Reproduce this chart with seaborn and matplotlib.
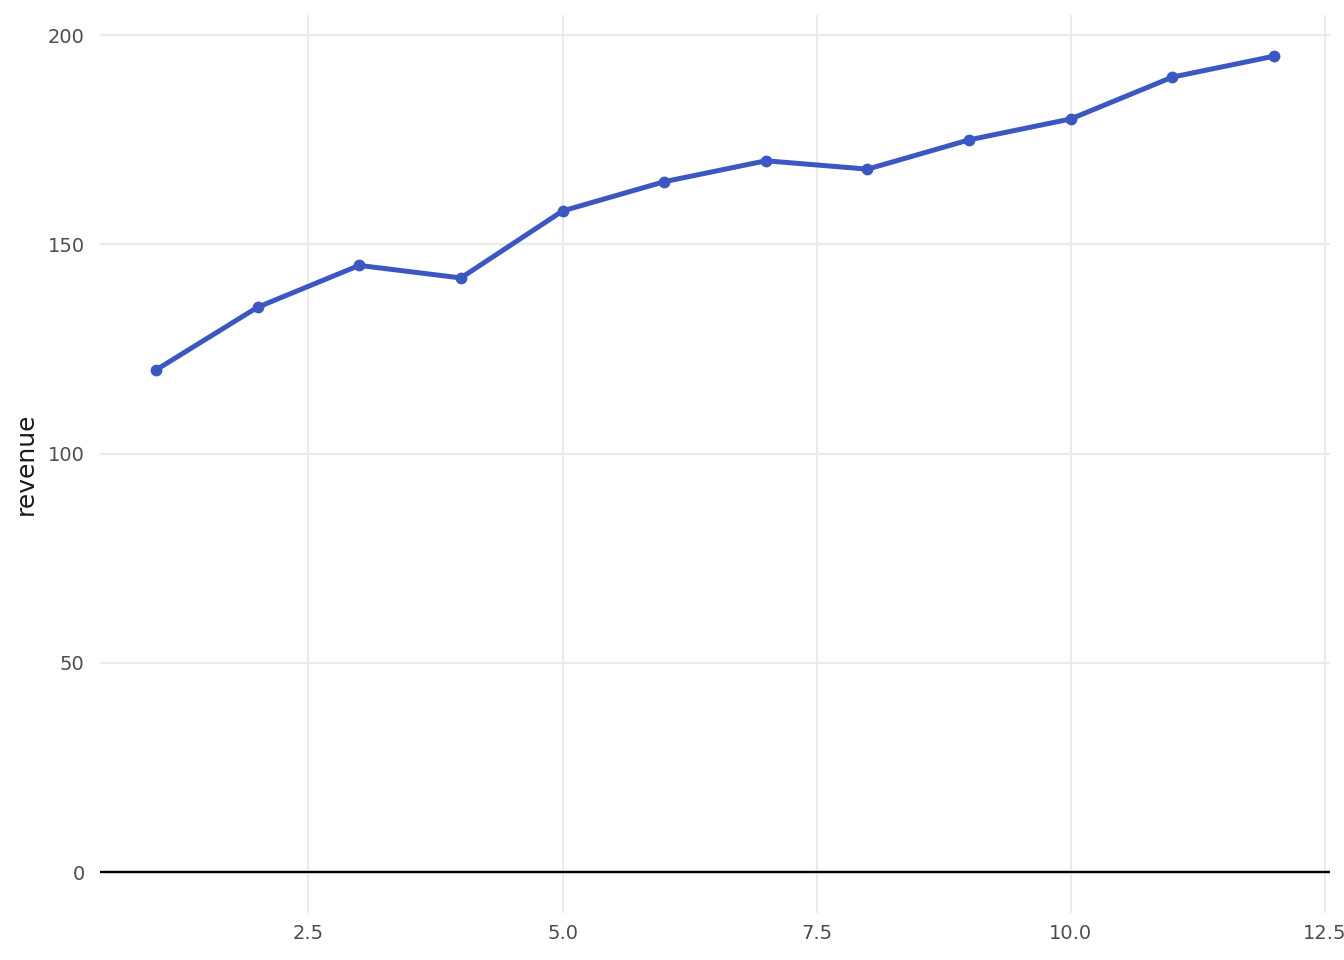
#################################################################################################
#   Required Header Files
#################################################################################################
import pandas as pd
import matplotlib
matplotlib.use("Agg")
import matplotlib.pyplot as plt
import seaborn as sns

#################################################################################################
#   Chart Data
#################################################################################################
Months = [1, 2, 3, 4, 5, 6, 7, 8, 9, 10, 11, 12]
Revenue = [120, 135, 145, 142, 158, 165, 170, 168, 175, 180, 190, 195]
XTicks = [2.5, 5.0, 7.5, 10.0, 12.5]
YTicks = [0, 50, 100, 150, 200]

#################################################################################################
#   Entry Point Function
#################################################################################################
def main() :
    df = pd.DataFrame({"month" : Months, "revenue" : Revenue})

    sns.set_style("white")
    plt.rcParams['font.family'] = ['DejaVu Sans']

    fig = plt.figure(figsize = (13.44, 9.6), dpi = 100)
    ax = fig.add_axes([0.0744, 0.049, 0.9152, 0.935])

    #############################################################################################
    #   Grid and zero line
    #############################################################################################
    ax.set_axisbelow(True)
    ax.grid(True, color = "#EBEBEB", linewidth = 1.5)
    ax.axhline(0, color = "black", linewidth = 1.7, zorder = 2)

    #############################################################################################
    #   Line with points
    #############################################################################################
    sns.lineplot(data = df, x = "month", y = "revenue", ax = ax,
                 color = "#3B57C1", linewidth = 3.6, marker = "o",
                 markersize = 8.5, markeredgewidth = 0, zorder = 3)

    ax.set_xlim(0.45, 12.55)
    ax.set_ylim(-9.75, 204.75)
    ax.set_xticks(XTicks)
    ax.set_xticklabels([f"{t:.1f}" for t in XTicks])
    ax.set_yticks(YTicks)
    ax.set_yticklabels([str(t) for t in YTicks])

    ax.tick_params(axis = "both", length = 0, labelsize = 14, labelcolor = "#4D4D4D")
    ax.tick_params(axis = "y", pad = 11)
    ax.tick_params(axis = "x", pad = 8)

    ax.set_xlabel("")
    ax.set_ylabel("revenue", fontsize = 18, color = "#1A1A1A", labelpad = 7)

    for Spine in ax.spines.values() :
        Spine.set_visible(False)

    fig.savefig("out.png", dpi = 100)

#################################################################################################
#   Starter
#################################################################################################
if __name__ == "__main__" :
    main()
